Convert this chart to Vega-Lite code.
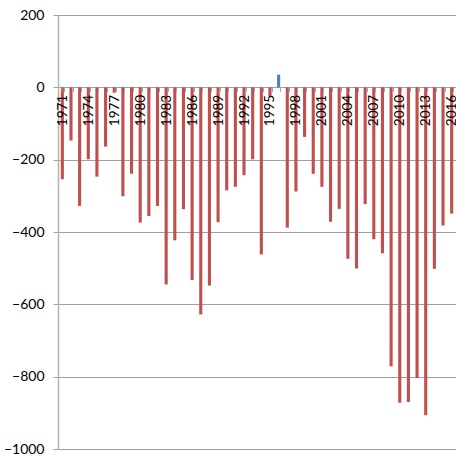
{
  "$schema": "https://vega.github.io/schema/vega-lite/v6.json",
  "autosize": {"type": "none"},
  "padding": {"left": 58, "top": 15, "right": 0, "bottom": 7},
  "width": 398,
  "height": 434,
  "background": "white",
  "data": {"values": [
    {"year": 1971, "value": -254}, {"year": 1972, "value": -147}, {"year": 1973, "value": -328},
    {"year": 1974, "value": -199}, {"year": 1975, "value": -247}, {"year": 1976, "value": -164},
    {"year": 1977, "value": -15}, {"year": 1978, "value": -301}, {"year": 1979, "value": -239},
    {"year": 1980, "value": -374}, {"year": 1981, "value": -356}, {"year": 1982, "value": -328},
    {"year": 1983, "value": -545}, {"year": 1984, "value": -423}, {"year": 1985, "value": -337},
    {"year": 1986, "value": -533}, {"year": 1987, "value": -628}, {"year": 1988, "value": -548},
    {"year": 1989, "value": -373}, {"year": 1990, "value": -285}, {"year": 1991, "value": -275},
    {"year": 1992, "value": -243}, {"year": 1993, "value": -199}, {"year": 1994, "value": -462},
    {"year": 1995, "value": -24}, {"year": 1996, "value": 35}, {"year": 1997, "value": -388},
    {"year": 1998, "value": -288}, {"year": 1999, "value": -137}, {"year": 2000, "value": -239},
    {"year": 2001, "value": -275}, {"year": 2002, "value": -372}, {"year": 2003, "value": -336},
    {"year": 2004, "value": -474}, {"year": 2005, "value": -501}, {"year": 2006, "value": -323},
    {"year": 2007, "value": -420}, {"year": 2008, "value": -459}, {"year": 2009, "value": -771},
    {"year": 2010, "value": -872}, {"year": 2011, "value": -870}, {"year": 2012, "value": -804},
    {"year": 2013, "value": -907}, {"year": 2014, "value": -502}, {"year": 2015, "value": -382},
    {"year": 2016, "value": -349}
  ]},
  "mark": {"type": "bar"},
  "encoding": {
    "x": {
      "field": "year", "type": "ordinal",
      "scale": {"paddingInner": 0.64, "paddingOuter": 0.32},
      "axis": {
        "title": null,
        "orient": "bottom",
        "offset": -361.7,
        "zindex": 1,
        "labelAngle": -90,
        "labelExpr": "(datum.value - 1971) % 3 == 0 ? datum.value : ''",
        "labelFont": "Lato",
        "labelFontSize": 13.5,
        "labelColor": "#000000",
        "labelPadding": 3,
        "labelOverlap": false,
        "labelBound": false,
        "tickBand": "extent",
        "tickColor": "#A0A0A0",
        "tickSize": 4,
        "domain": false,
        "grid": false
      }
    },
    "y": {
      "field": "value", "type": "quantitative",
      "scale": {"domain": [-1000, 200], "nice": false, "zero": false},
      "axis": {
        "title": null,
        "zindex": 0,
        "format": "d",
        "values": [-1000, -800, -600, -400, -200, 0, 200],
        "labelFont": "Lato",
        "labelFontSize": 14,
        "labelColor": "#000000",
        "labelPadding": 9,
        "tickColor": "#A0A0A0",
        "tickSize": 5,
        "domainColor": "#B4B4B4",
        "domainWidth": 1.5,
        "grid": true,
        "gridColor": "#A0A0A0",
        "gridWidth": 1
      }
    },
    "color": {
      "condition": {"test": "datum.value > 0", "value": "#4F81BD"},
      "value": "#C0504D"
    }
  },
  "config": {"view": {"stroke": null}}
}
